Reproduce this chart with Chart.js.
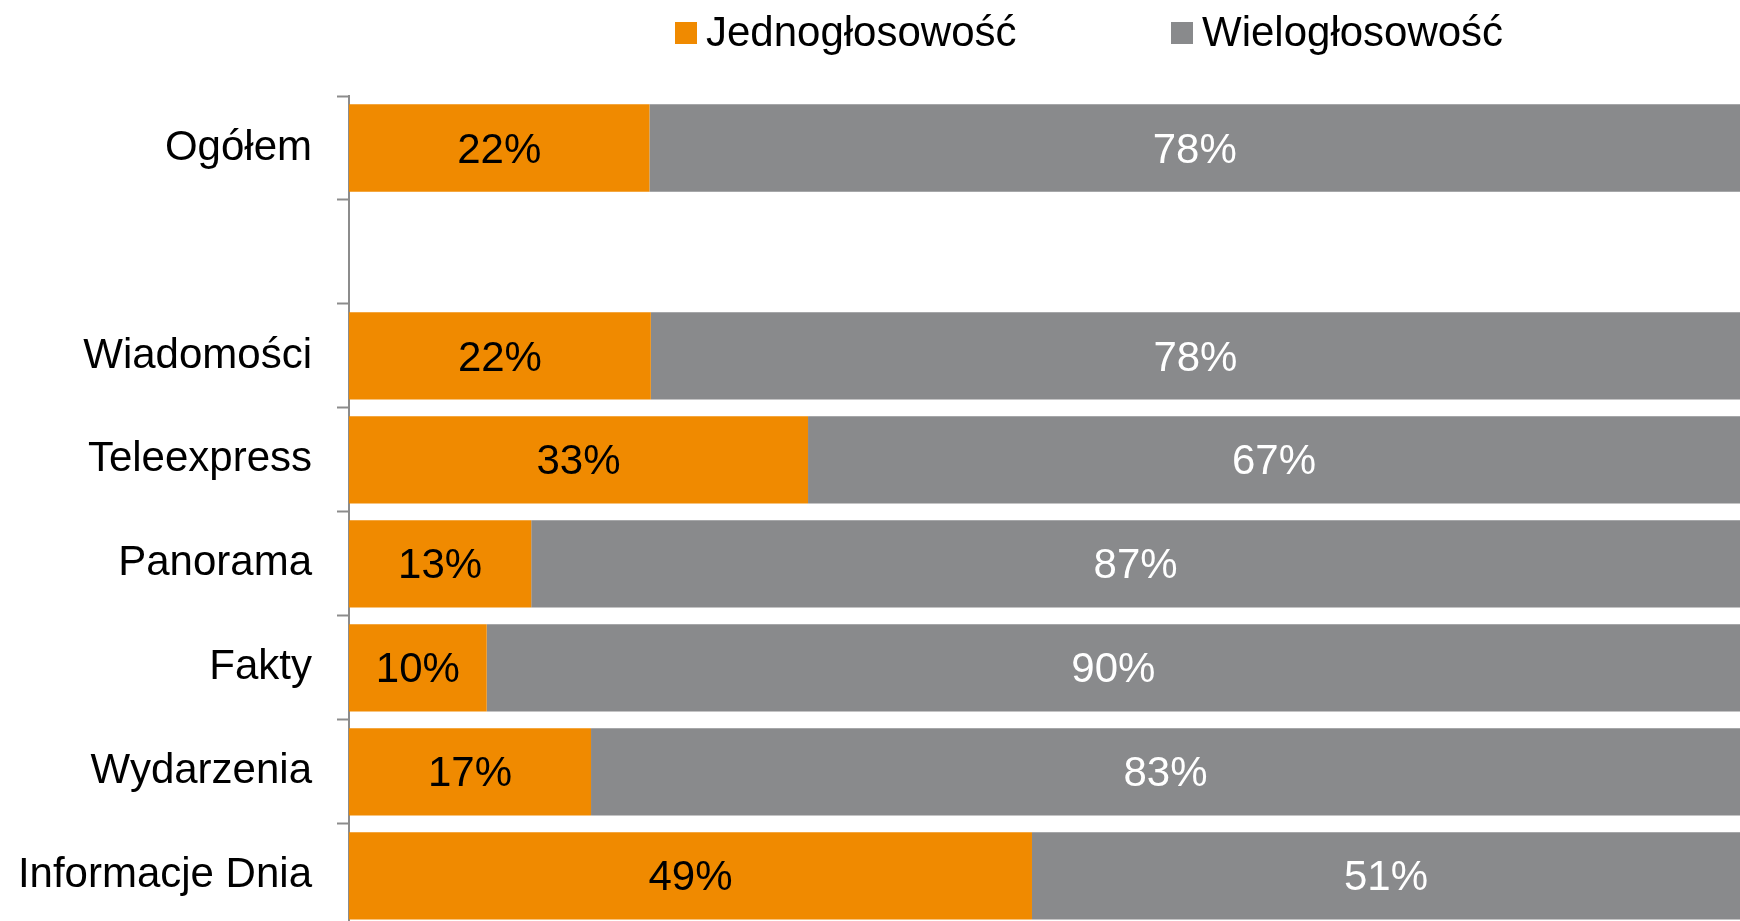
<!DOCTYPE html>
<html>
<head>
<meta charset="utf-8">
<script src="https://cdn.jsdelivr.net/npm/chart.js@4"></script>
<style>
  body { margin: 0; overflow: hidden; background: #fff; font-family: 'Liberation Sans', Arial, sans-serif; }
  #wrap { position: absolute; left: 0; top: 0; width: 1740px; height: 978px; }
  .leg { position: absolute; top: 11px; font-size: 42px; line-height: 42px; color: #000; white-space: nowrap; }
  .sq { position: absolute; top: 22px; width: 22px; height: 22px; }
</style>
</head>
<body>
<div id="wrap"><canvas id="barChart" width="1740" height="978"></canvas></div>
<div class="sq" style="left:675px;background:#F08A00"></div>
<div class="leg" style="left:706px">Jednogłosowość</div>
<div class="sq" style="left:1171px;background:#898A8C"></div>
<div class="leg" style="left:1202px">Wielogłosowość</div>
<script>
// kategorie (pusty wiersz po "Ogółem")
const categories = ['Ogółem', '', 'Wiadomości', 'Teleexpress', 'Panorama', 'Fakty', 'Wydarzenia', 'Informacje Dnia'];
const jedno = [21.6, null, 21.7, 33.0, 13.1, 9.9, 17.4, 49.1];
const wielo = [78.4, null, 78.3, 67.0, 86.9, 90.1, 82.6, 50.9];
const seriesNames = ['Jednogłosowość', 'Wielogłosowość'];

const orange = '#F08A00';
const gray = '#898A8C';
const font = { family: "'Liberation Sans', Arial, sans-serif", size: 42 };

// napisy z procentami na środku słupków
const valueLabels = {
    id: 'valueLabels',
    afterDatasetsDraw(chart) {
        const ctx = chart.ctx;
        ctx.save();
        ctx.font = `${font.size}px ${font.family}`;
        ctx.textAlign = 'center';
        ctx.textBaseline = 'middle';
        chart.data.datasets.forEach((ds, i) => {
            const meta = chart.getDatasetMeta(i);
            meta.data.forEach((bar, j) => {
                const v = ds.data[j];
                if (v == null) return;
                ctx.fillStyle = i === 0 ? '#000' : '#fff';
                ctx.fillText(Math.round(v) + '%', (bar.x + bar.base) / 2, bar.y + 3);
            });
        });
        ctx.restore();
    }
};

const bar = document.getElementById('barChart');

new Chart(bar, {
    type: 'bar',
    data: {
        labels: categories,
        datasets: [{
            label: seriesNames[0],
            data: jedno,
            backgroundColor: orange,
            categoryPercentage: 0.84,
            barPercentage: 1
        }, {
            label: seriesNames[1],
            data: wielo,
            backgroundColor: gray,
            categoryPercentage: 0.84,
            barPercentage: 1
        }]
    },
    options: {
        indexAxis: 'y',
        responsive: false,
        animation: false,
        layout: { padding: { top: 96, right: 0, bottom: 0, left: 0 } },
        plugins: {
            legend: { display: false },
            tooltip: { enabled: false }
        },
        scales: {
            x: {
                stacked: true,
                min: 0,
                max: 100,
                display: false
            },
            y: {
                stacked: true,
                afterFit(scale) { scale.width = 349; },
                grid: {
                    offset: true,
                    drawOnChartArea: false,
                    drawTicks: true,
                    tickLength: 12,
                    tickWidth: 2,
                    tickColor: '#8c8c8c'
                },
                border: { display: true, color: '#8c8c8c', width: 2 },
                ticks: {
                    color: '#000',
                    font: font,
                    padding: 25
                }
            }
        }
    },
    plugins: [valueLabels]
});
</script>
</body>
</html>
